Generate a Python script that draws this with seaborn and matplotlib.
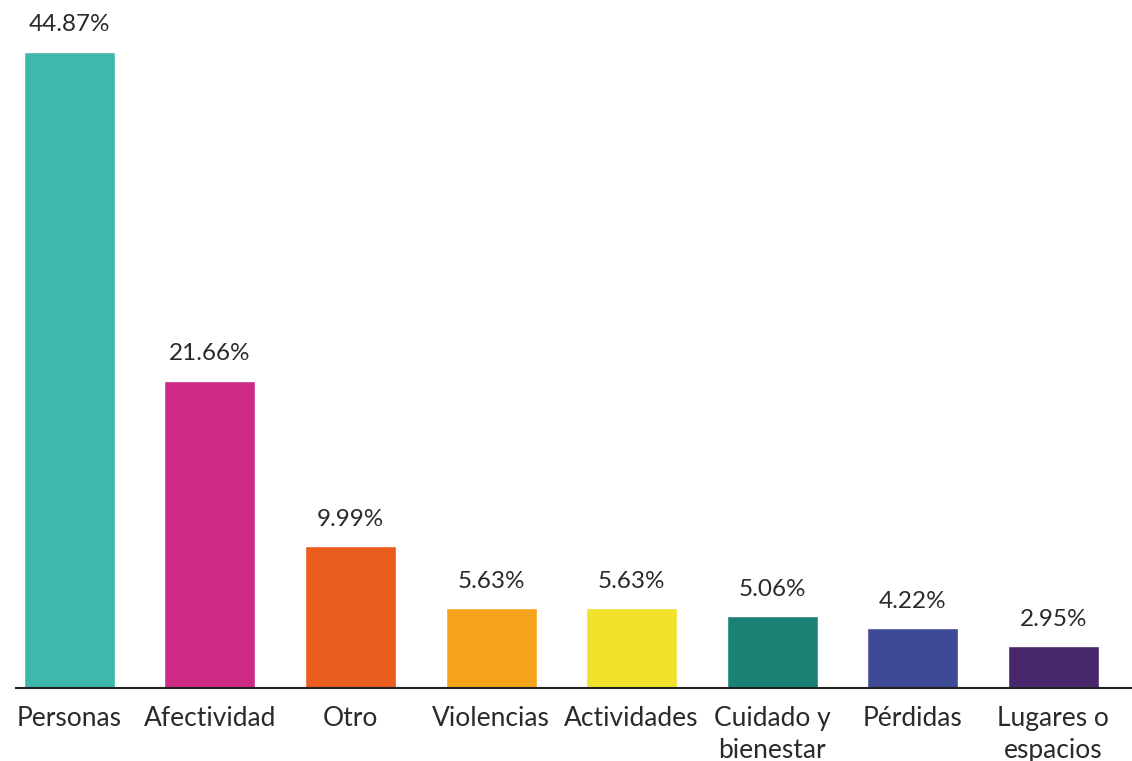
import pandas as pd
import matplotlib.pyplot as plt
import seaborn as sns

# Dades del gràfic
categories = ['Personas', 'Afectividad', 'Otro', 'Violencias', 'Actividades',
              'Cuidado y\nbienestar', 'Pérdidas', 'Lugares o\nespacios']
valors = [44.87, 21.66, 9.99, 5.63, 5.63, 5.06, 4.22, 2.95]
colors = ['#3EB8AA', '#CC2A84', '#EB5C1F', '#F5A31A', '#F0E22A',
          '#1A8275', '#3F4A96', '#48276B']

data = pd.DataFrame({'categoria': categories, 'valor': valors})

sns.set_style('white')
plt.rcParams['font.family'] = ['Lato', 'DejaVu Sans']

fig = plt.figure(figsize=(11.32, 7.61), dpi=100)
ax = fig.add_axes([16 / 1132, 73 / 761, 1 - 16 / 1132, 688 / 761])

sns.barplot(data=data, x='categoria', y='valor', hue='categoria', palette=colors,
            legend=False, width=0.647, saturation=1, ax=ax)

for cont in ax.containers:
    ax.bar_label(cont, fmt='%.2f%%', padding=12, fontsize=17.5, fontweight='normal',
                 color='#2a2a2a')

ax.set_xlim(-0.38, 7.56)
ax.set_ylim(0, 48.54)
ax.set_xlabel('')
ax.set_ylabel('')
ax.set_yticks([])
sns.despine(ax=ax, left=True)
ax.spines['bottom'].set_color('#222222')
ax.spines['bottom'].set_linewidth(1.5)
ax.tick_params(axis='x', length=0, pad=13, labelsize=19, labelcolor='#2a2a2a')
for lbl in ax.get_xticklabels():
    lbl.set_fontweight('normal')
    lbl.set_linespacing(1.35)

plt.savefig('out.png', dpi=100)
plt.close()
